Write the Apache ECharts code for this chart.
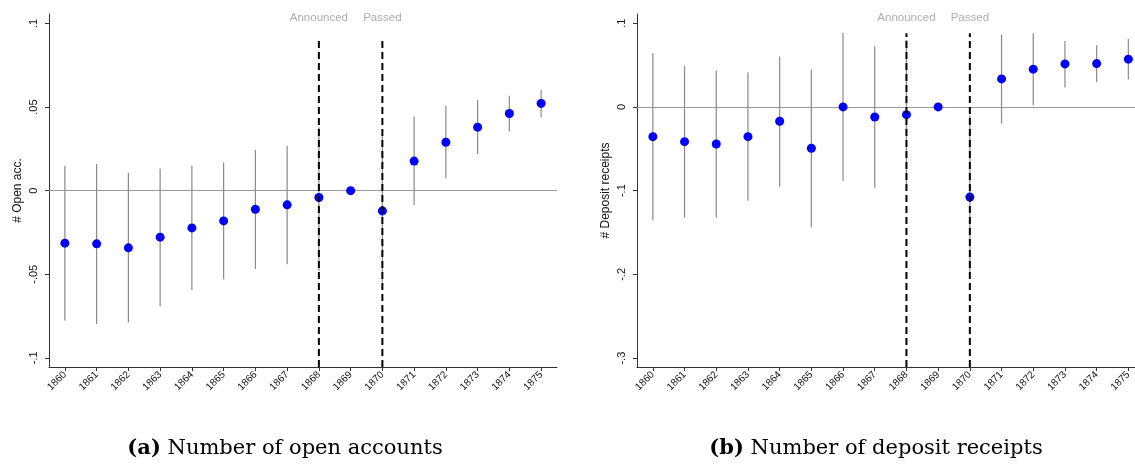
<!DOCTYPE html>
<html><head><meta charset="utf-8">
<script src="https://cdn.jsdelivr.net/npm/echarts@6/dist/echarts.min.js"></script>
<style>html,body{margin:0;padding:0;background:#fff}#c{width:1135px;height:464px}</style>
</head><body><div id="c"></div>
<script>
// ---- data ----
const years = ['1860','1861','1862','1863','1864','1865','1866','1867','1868','1869','1870','1871','1872','1873','1874','1875'];

const openEst = [-0.0314,-0.0318,-0.0342,-0.0278,-0.0223,-0.0181,-0.0111,-0.0085,-0.0041,0.0000,-0.0121,0.0177,0.0290,0.0380,0.0462,0.0522];
const openLo  = [-0.0777,-0.0797,-0.0789,-0.0692,-0.0594,-0.0532,-0.0468,-0.0440,-0.0480,null,-0.0550,-0.0087,0.0073,0.0219,0.0354,0.0438];
const openHi  = [0.0149,0.0159,0.0107,0.0133,0.0149,0.0169,0.0244,0.0268,0.0380,null,0.0330,0.0444,0.0508,0.0542,0.0568,0.0604];

const depEst = [-0.0355,-0.0415,-0.0443,-0.0355,-0.0171,-0.0494,0.0000,-0.0120,-0.0092,0.0000,-0.1077,0.0335,0.0451,0.0514,0.0518,0.0571];
const depLo  = [-0.1356,-0.1324,-0.1324,-0.1121,-0.0953,-0.1439,-0.0885,-0.0965,-0.1000,null,-0.2000,-0.0199,0.0020,0.0231,0.0295,0.0327];
const depHi  = [0.0642,0.0494,0.0431,0.0415,0.0602,0.0446,0.0885,0.0726,0.0800,null,-0.0100,0.0865,0.0881,0.0789,0.0738,0.0813];

const eventYears  = ['1868','1870'];
const eventLabels = ['Announced','Passed'];

const openTicks = [-0.1,-0.05,0,0.05,0.1];
const openTickLabels = ['-.1','-.05','0','.05','.1'];
const depTicks = [-0.3,-0.2,-0.1,0,0.1];
const depTickLabels = ['-.3','-.2','-.1','0','.1'];

const openRange = [-0.1055, 0.1057];
const depRange  = [-0.3106, 0.1110];
const openXRange = [-0.5, 15.5];
const depXRange  = [-0.5, 15.21];   // right panel is cut at the image edge
const openEventTop = 0.090;
const depEventTop  = 0.088;

const captions = [['(a)','Number of open accounts'],['(b)','Number of deposit receipts']];
const yNames = ['# Open acc.','# Deposit receipts'];

// ---- chart ----
const SANS = "'Liberation Sans', Arial, Helvetica, sans-serif";
const SERIF = "'DejaVu Serif', 'Liberation Serif', serif";
const chart = echarts.init(document.getElementById('c'), null, {renderer:'canvas'});
const yearIdx = years.map((_, i) => i);

function fmtTick(ticks, labels){ return v => { for (let i=0;i<ticks.length;i++){ if (Math.abs(v-ticks[i])<1e-9) return labels[i]; } return ''; }; }

function xAxisFor(gi, range){
  return {
    type:'value', gridIndex:gi, min:range[0], max:range[1],
    axisLine:{show:true, onZero:false, lineStyle:{color:'#333', width:1}},
    axisTick:{show:true, length:4, customValues:yearIdx, lineStyle:{color:'#333'}},
    axisLabel:{rotate:45, fontSize:10, color:'#111', fontFamily:SANS, margin:6, customValues:yearIdx,
      formatter: v => years[Math.round(v)] || ''},
    splitLine:{show:false}
  };
}
function yAxisFor(gi, range, ticks, labels, name){
  return {
    type:'value', gridIndex:gi, min:range[0], max:range[1],
    name:name, nameLocation:'middle', nameGap:25,
    nameTextStyle:{fontSize:12, color:'#111', fontFamily:SANS},
    axisLine:{show:true, onZero:false, lineStyle:{color:'#333', width:1}},
    axisTick:{show:true, length:4, customValues:ticks, lineStyle:{color:'#333'}},
    axisLabel:{rotate:90, fontSize:11, color:'#111', fontFamily:SANS, margin:10, customValues:ticks, formatter:fmtTick(ticks, labels)},
    splitLine:{show:false}
  };
}

function seriesFor(gi, est, lo, hi, range, evTop, labelDist){
  const out = [];
  const ciData = [];
  years.forEach((y,i)=>{ if (lo[i]!==null && hi[i]!==null) ciData.push([i, lo[i], hi[i]]); });
  out.push({
    type:'custom', xAxisIndex:gi, yAxisIndex:gi, z:2, silent:true,
    data:ciData, encode:{x:0, y:[1,2]},
    renderItem:(params, api)=>{
      const x = api.value(0);
      const p1 = api.coord([x, api.value(1)]);
      const p2 = api.coord([x, api.value(2)]);
      return {type:'line', shape:{x1:p1[0], y1:p1[1], x2:p2[0], y2:p2[1]}, style:{stroke:'#8a8a8a', lineWidth:1.2}};
    }
  });
  out.push({
    type:'scatter', xAxisIndex:gi, yAxisIndex:gi, z:3, silent:true,
    symbol:'circle', symbolSize:9, itemStyle:{color:'#0000ff', opacity:1},
    data:est.map((v,i)=>[i, v]),
    markLine:{silent:true, symbol:'none', z:1, label:{show:false},
      lineStyle:{color:'#9a9a9a', type:'solid', width:1},
      data:[{yAxis:0}]}
  });
  eventYears.forEach((ey, k)=>{
    const xi = years.indexOf(ey);
    out.push({
      type:'line', xAxisIndex:gi, yAxisIndex:gi, z:4, silent:true,
      symbol:'none', lineStyle:{color:'#000', width:2, type:[7,4]},
      data:[[xi, range[0]],[xi, evTop]]
    });
    out.push({
      type:'scatter', xAxisIndex:gi, yAxisIndex:gi, z:4, silent:true,
      symbolSize:0,
      label:{show:true, position:'top', distance:labelDist, formatter:eventLabels[k], color:'#999', fontSize:11.5, fontFamily:SANS},
      data:[[xi, evTop]]
    });
  });
  return out;
}

const option = {
  backgroundColor:'#fff',
  animation:false,
  title: captions.map((c, i)=>({
    text:'{b|'+c[0]+'} '+c[1],
    left: i===0 ? 280 : 871, top: 433, textAlign:'center',
    textStyle:{fontSize:21, fontWeight:'normal', color:'#000', fontFamily:SERIF,
      rich:{b:{fontSize:21, fontWeight:'bold', fontFamily:SERIF}}}
  })),
  grid:[
    {left:49, top:14, width:508, height:353, containLabel:false},
    {left:637, top:14, width:498, height:353, containLabel:false}
  ],
  xAxis:[xAxisFor(0, openXRange), xAxisFor(1, depXRange)],
  yAxis:[yAxisFor(0, openRange, openTicks, openTickLabels, yNames[0]),
         yAxisFor(1, depRange, depTicks, depTickLabels, yNames[1])],
  series:[...seriesFor(0, openEst, openLo, openHi, openRange, openEventTop, 16),
          ...seriesFor(1, depEst, depLo, depHi, depRange, depEventTop, 9.5)]
};
chart.setOption(option);
</script>
</body></html>
